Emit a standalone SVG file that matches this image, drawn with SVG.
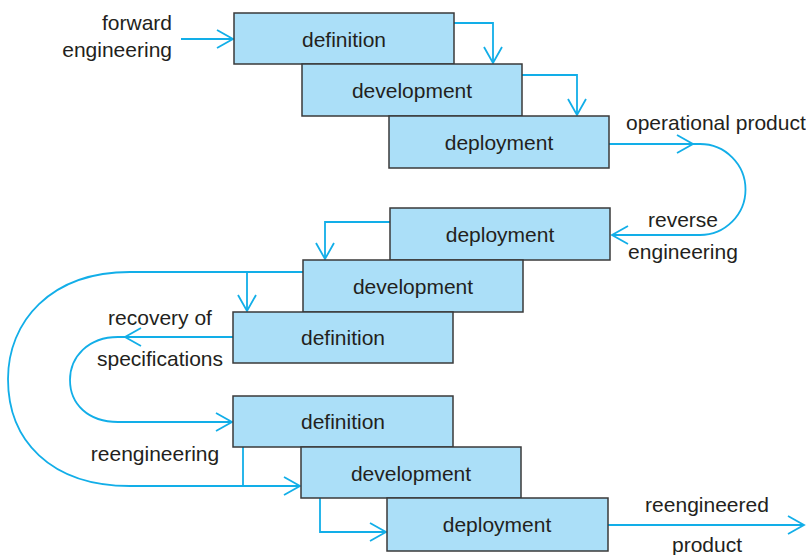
<svg xmlns="http://www.w3.org/2000/svg" width="806" height="555" viewBox="0 0 806 555">
<defs>
<style>
.box{fill:#ABDFF8;stroke:#3a3a3a;stroke-width:1.5}
.lbl{font-family:"Liberation Sans",Arial,sans-serif;font-size:21px;fill:#231F20}
.c{text-anchor:middle}
.r{text-anchor:end}
.ln{fill:none;stroke:#12AEE8;stroke-width:1.8}
</style>
<marker id="ah" markerUnits="userSpaceOnUse" markerWidth="20" markerHeight="22" viewBox="-18 -11 20 22" refX="0" refY="0" orient="auto">
<path d="M-16,-9 L0,0 L-16,9" fill="none" stroke="#12AEE8" stroke-width="1.8"/>
</marker>
</defs>
<g id="connectors">
<path class="ln" d="M181,39 H233" marker-end="url(#ah)"/>
<path class="ln" d="M454,23 H493 V63" marker-end="url(#ah)"/>
<path class="ln" d="M522,75 H577 V115" marker-end="url(#ah)"/>
<path class="ln" d="M609,144 H693" marker-end="url(#ah)"/>
<path class="ln" d="M693,144 H700 A45.5,45.5 0 0 1 700,235 H612" marker-end="url(#ah)"/>
<path class="ln" d="M390,222 H325 V259" marker-end="url(#ah)"/>
<path class="ln" d="M303,272 H247 V311" marker-end="url(#ah)"/>
<path class="ln" d="M247,272 H130 C50,272 8,322 8,379 C8,440 50,486 130,486 H300" marker-end="url(#ah)"/>
<path class="ln" d="M233,337 H125" marker-end="url(#ah)"/>
<path class="ln" d="M125,337 H118 C88,337 70,357 70,380 C70,404 88,422 118,422 H232" marker-end="url(#ah)"/>
<path class="ln" d="M243,447 V486"/>
<path class="ln" d="M320,498 V532 H386" marker-end="url(#ah)"/>
<path class="ln" d="M608,525 H804" marker-end="url(#ah)"/>
</g>
<g id="n1"><rect class="box" x="234" y="13" width="220" height="51"/><text class="lbl c" x="344" y="47">definition</text></g>
<g id="n2"><rect class="box" x="302" y="64" width="220" height="52"/><text class="lbl c" x="412" y="98">development</text></g>
<g id="n3"><rect class="box" x="389" y="116" width="220" height="52"/><text class="lbl c" x="499" y="150">deployment</text></g>
<g id="n4"><rect class="box" x="390" y="208" width="220" height="52"/><text class="lbl c" x="500" y="242">deployment</text></g>
<g id="n5"><rect class="box" x="303" y="260" width="220" height="52"/><text class="lbl c" x="413" y="294">development</text></g>
<g id="n6"><rect class="box" x="233" y="312" width="220" height="51"/><text class="lbl c" x="343" y="345">definition</text></g>
<g id="n7"><rect class="box" x="233" y="396" width="220" height="51"/><text class="lbl c" x="343" y="429">definition</text></g>
<g id="n8"><rect class="box" x="301" y="447" width="220" height="51"/><text class="lbl c" x="411" y="481">development</text></g>
<g id="n9"><rect class="box" x="387" y="498" width="221" height="53"/><text class="lbl c" x="497" y="532">deployment</text></g>
<g id="labels">
<text class="lbl r" x="172" y="30">forward</text>
<text class="lbl r" x="172" y="57">engineering</text>
<text class="lbl" x="626" y="130">operational product</text>
<text class="lbl c" x="683" y="227">reverse</text>
<text class="lbl c" x="683" y="259">engineering</text>
<text class="lbl c" x="160" y="325">recovery of</text>
<text class="lbl c" x="160" y="366">specifications</text>
<text class="lbl c" x="155" y="461">reengineering</text>
<text class="lbl c" x="707" y="512">reengineered</text>
<text class="lbl c" x="707" y="552">product</text>
</g>
</svg>
